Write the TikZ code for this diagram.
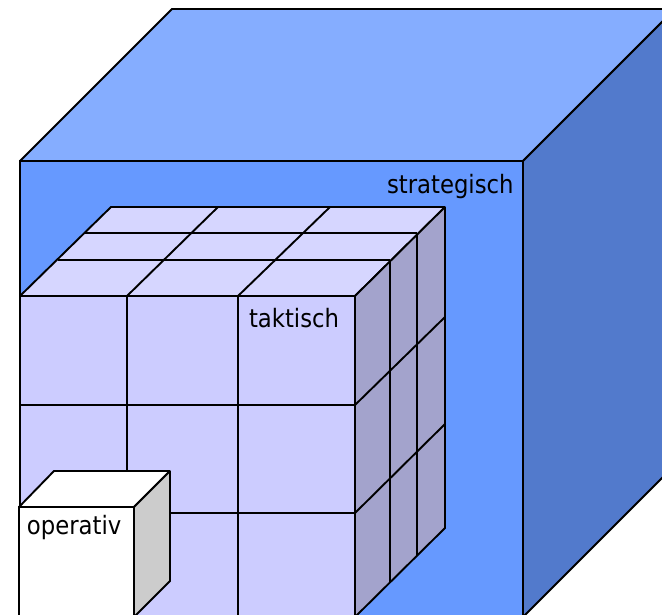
\documentclass[tikz,border=0pt]{standalone}
\usepackage{fontspec}
\setmainfont{DejaVu Sans Condensed}
\definecolor{bigfront}{HTML}{6699FF}
\definecolor{bigtop}{HTML}{85ADFF}
\definecolor{bigside}{HTML}{527ACC}
\definecolor{midfront}{HTML}{CCCCFF}
\definecolor{midtop}{HTML}{D6D6FF}
\definecolor{midside}{HTML}{A3A3CC}
\definecolor{smallside}{HTML}{CCCCCC}
\tikzset{
  edge/.style={draw=black,line width=1.9pt,line join=miter,miter limit=2},
  grid/.style={draw=black,line width=1.9pt},
  lab/.style={anchor=base west,inner sep=0pt,outer sep=0pt,font=\fontsize{25.3pt}{29pt}\selectfont,text=black}
}
\begin{document}
\begin{tikzpicture}[x=1pt,y=-1pt]
\useasboundingbox (0,0) rectangle (662,615);
\clip (0,0) rectangle (662,615);
\fill[white] (0,0) rectangle (662,615);
% strategisch
\filldraw[edge,fill=bigtop] (20,161) -- (172,9) -- (675,9) -- (523,161) -- cycle;
\filldraw[edge,fill=bigside] (523,161) -- (675,9) -- (675,465) -- (523,617) -- cycle;
\filldraw[edge,fill=bigfront] (20,161) rectangle (523,640);
\node[lab] (strategisch) at (387,194) {strategisch};
% taktisch
\filldraw[edge,fill=midtop] (20,296) -- (111,207) -- (445,207) -- (355,296) -- cycle;
\filldraw[edge,fill=midside] (355,296) -- (445,207) -- (445,528) -- (355,617) -- cycle;
\filldraw[edge,fill=midfront] (20,296) rectangle (355,640);
\draw[grid] (58,260) -- (390,260);
\draw[grid] (84,233) -- (417,233);
\draw[grid] (127,296) -- (218,207);
\draw[grid] (238,296) -- (330,207);
\draw[grid] (390,261) -- (390,582);
\draw[grid] (417,234) -- (417,555);
\draw[grid] (355,405) -- (445,317);
\draw[grid] (355,513) -- (445,424);
\draw[grid] (127,296) -- (127,640);
\draw[grid] (238,296) -- (238,640);
\draw[grid] (20,405) -- (355,405);
\draw[grid] (20,513) -- (355,513);
\node[lab] (taktisch) at (249,327) {taktisch};
% operativ
\filldraw[edge,fill=white] (19,507) -- (54,471) -- (170,471) -- (134,507) -- cycle;
\filldraw[edge,fill=smallside] (134,507) -- (170,471) -- (170,581) -- (134,617) -- cycle;
\filldraw[edge,fill=white] (19,507) rectangle (134,640);
\node[lab] (operativ) at (27,534) {operativ};
\end{tikzpicture}
\end{document}
